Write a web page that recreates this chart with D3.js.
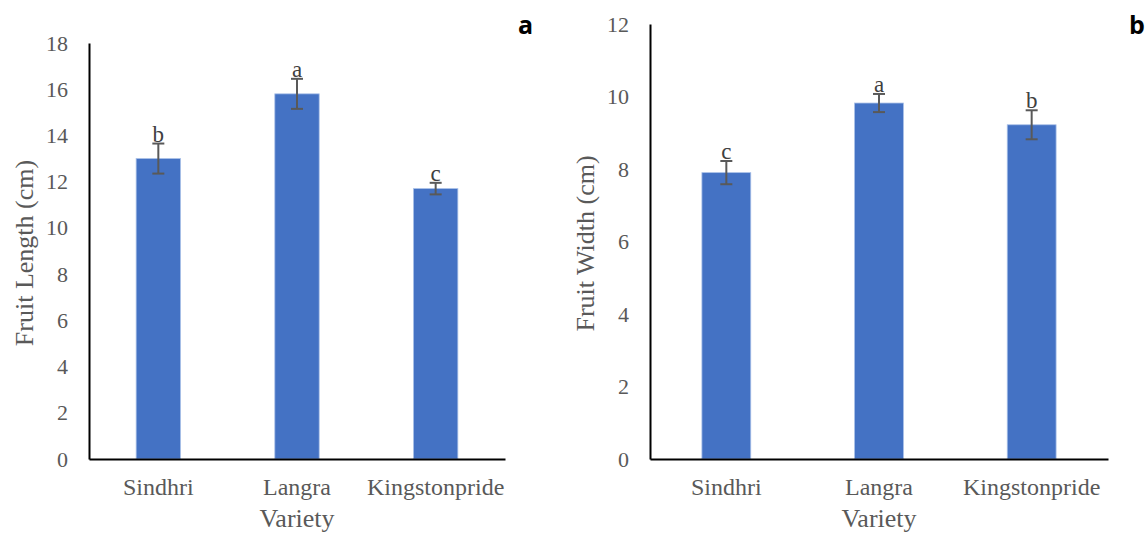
<!DOCTYPE html>
<html>
<head>
<meta charset="utf-8">
<script src="https://cdn.jsdelivr.net/npm/d3@7"></script>
<style>
  body { margin: 0; background: #fff; }
  svg { display: block; }
</style>
</head>
<body>
<svg id="SVG_CONTAINER" width="1146" height="535"></svg>
<script>
// data
const varieties = ["Sindhri", "Langra", "Kingstonpride"];

const lengthMeans = [13.0, 15.8, 11.7];
const lengthErr   = [0.65, 0.65, 0.25];
const lengthGroups = ["b", "a", "c"];
const lengthTicks = [0, 2, 4, 6, 8, 10, 12, 14, 16, 18];

const widthMeans = [7.9, 9.82, 9.22];
const widthErr   = [0.32, 0.25, 0.4];
const widthGroups = ["c", "a", "b"];
const widthTicks = [0, 2, 4, 6, 8, 10, 12];

const svg = d3.select("#SVG_CONTAINER");
const SERIF = "'Liberation Serif', 'Times New Roman', serif";

function drawPanel(opt) {
    const data = varieties.map((v, i) => ({
        name: v, mean: opt.means[i], err: opt.errs[i], grp: opt.groups[i]
    }));

    const xScale = d3.scaleBand()
        .domain(varieties)
        .range([opt.left, opt.right])
        .paddingInner(0.68)
        .paddingOuter(0.34);

    const yScale = d3.scaleLinear()
        .domain([0, d3.max(opt.ticks)])
        .range([opt.bottom, opt.top]);

    const g = svg.append("g");

    // bars
    g.selectAll("rect.bar")
        .data(data)
        .enter()
        .append("rect")
        .attr("class", "bar")
        .attr("x", d => xScale(d.name))
        .attr("y", d => yScale(d.mean))
        .attr("width", xScale.bandwidth())
        .attr("height", d => yScale(0) - yScale(d.mean))
        .attr("fill", "#4472C4")
        .attr("stroke", "#A9C0E8")
        .attr("stroke-width", 0.8);

    // error bars
    const cx = d => xScale(d.name) + xScale.bandwidth() / 2;
    const eb = g.selectAll("g.err").data(data).enter().append("g").attr("class", "err")
        .attr("stroke", "#595959").attr("stroke-width", 2);
    eb.append("line")
        .attr("x1", cx).attr("x2", cx)
        .attr("y1", d => yScale(d.mean + d.err))
        .attr("y2", d => yScale(d.mean - d.err));
    eb.append("line")
        .attr("x1", d => cx(d) - 6).attr("x2", d => cx(d) + 6)
        .attr("y1", d => yScale(d.mean + d.err))
        .attr("y2", d => yScale(d.mean + d.err));
    eb.append("line")
        .attr("x1", d => cx(d) - 6).attr("x2", d => cx(d) + 6)
        .attr("y1", d => yScale(d.mean - d.err))
        .attr("y2", d => yScale(d.mean - d.err));

    // significance letters
    g.selectAll("text.grp")
        .data(data)
        .enter()
        .append("text")
        .attr("class", "grp")
        .attr("x", cx)
        .attr("y", d => yScale(d.mean + d.err) - 2)
        .attr("text-anchor", "middle")
        .attr("font-family", SERIF)
        .attr("font-size", "23px")
        .attr("fill", "#404040")
        .text(d => d.grp);

    // y axis
    const yAxis = d3.axisLeft(yScale)
        .tickValues(opt.ticks)
        .tickSize(0)
        .tickPadding(21);
    const ya = g.append("g")
        .attr("transform", "translate(" + opt.left + ",0)")
        .call(yAxis);
    ya.select(".domain").attr("stroke", "#000").attr("stroke-width", 2);
    ya.selectAll("text")
        .attr("font-family", SERIF)
        .attr("font-size", "22px")
        .attr("fill", "#595959");

    // x axis
    const xAxis = d3.axisBottom(xScale)
        .tickSize(0)
        .tickPadding(19);
    const xa = g.append("g")
        .attr("transform", "translate(0," + opt.bottom + ")")
        .call(xAxis);
    xa.select(".domain").attr("stroke", "#000").attr("stroke-width", 2);
    xa.selectAll("text")
        .attr("font-family", SERIF)
        .attr("font-size", "24px")
        .attr("fill", "#595959");

    // axis titles
    g.append("text")
        .attr("transform", "translate(" + opt.yTitleX + "," + ((opt.top + opt.bottom) / 2 + 2) + ") rotate(-90)")
        .attr("text-anchor", "middle")
        .attr("font-family", SERIF)
        .attr("font-size", "26px")
        .attr("fill", "#595959")
        .text(opt.yTitle);

    g.append("text")
        .attr("x", (opt.left + opt.right) / 2)
        .attr("y", opt.bottom + 68)
        .attr("text-anchor", "middle")
        .attr("font-family", SERIF)
        .attr("font-size", "26px")
        .attr("fill", "#595959")
        .text("Variety");

    // panel letter
    g.append("text")
        .attr("x", opt.letterX)
        .attr("y", 34)
        .attr("font-family", "'Open Sans', 'DejaVu Sans', sans-serif")
        .attr("font-weight", "bold")
        .attr("font-size", "25px")
        .attr("fill", "#000")
        .text(opt.letter);
}

drawPanel({
    means: lengthMeans, errs: lengthErr, groups: lengthGroups, ticks: lengthTicks,
    left: 89, right: 505, top: 43, bottom: 459,
    yTitle: "Fruit Length (cm)", yTitleX: 33, letter: "a", letterX: 518
});

drawPanel({
    means: widthMeans, errs: widthErr, groups: widthGroups, ticks: widthTicks,
    left: 650, right: 1108, top: 24, bottom: 459,
    yTitle: "Fruit Width (cm)", yTitleX: 594, letter: "b", letterX: 1129
});
</script>
</body>
</html>
